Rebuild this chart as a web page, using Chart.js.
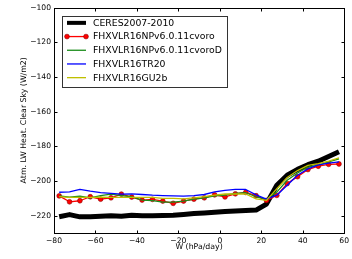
<!DOCTYPE html>
<html>
<head>
<meta charset="utf-8">
<script src="https://cdn.jsdelivr.net/npm/chart.js@4"></script>
<style>
  html, body { margin: 0; padding: 0; background: #fff; }
  #wrap { width: 352px; height: 259px; }
</style>
</head>
<body>
<div id="wrap"><canvas id="lw-chart"></canvas></div>
<script>
// vertical velocity bins (hPa/day)
const wBins = [-77.5, -72.5, -67.5, -62.5, -57.5, -52.5, -47.5, -42.5, -37.5, -32.5,
               -27.5, -22.5, -17.5, -12.5, -7.5, -2.5, 2.5, 7.5, 12.5, 17.5,
               22.5, 27.5, 32.5, 37.5, 42.5, 47.5, 52.5, 57.5];

const ceres = [-220.6, -219.4, -220.7, -220.6, -220.3, -220.1, -220.3, -219.7, -220.0, -220.0,
               -219.9, -219.7, -219.3, -218.8, -218.4, -218.0, -217.6, -217.3, -217.0, -216.8,
               -213.3, -202.5, -196.7, -193.3, -190.6, -188.6, -185.9, -183.2];
const npv6cvoro = [-208.6, -212.0, -211.4, -209.1, -210.5, -209.7, -207.6, -209.3, -211.0, -210.6,
                   -211.6, -212.9, -211.6, -210.5, -209.7, -208.0, -209.2, -207.4, -206.6, -208.5,
                   -211.2, -208.3, -201.5, -197.5, -193.4, -191.5, -190.4, -190.2];
const npv6cvoroD = [-208.6, -209.3, -208.8, -209.7, -208.4, -207.6, -208.4, -209.1, -211.0, -211.3,
                    -212.2, -212.2, -211.6, -210.5, -209.7, -208.6, -208.2, -207.2, -206.8, -209.1,
                    -210.6, -206.4, -199.6, -195.4, -192.0, -190.9, -189.0, -187.2];
const tr20 = [-206.5, -206.3, -204.9, -205.9, -206.7, -207.2, -207.6, -207.4, -207.8, -208.2,
              -208.4, -208.6, -208.7, -208.4, -207.8, -206.3, -205.4, -204.9, -204.9, -208.0,
              -210.5, -208.2, -202.5, -196.7, -193.0, -190.7, -189.7, -189.0];
const gu2b = [-209.0, -209.5, -209.5, -209.5, -209.3, -209.5, -209.5, -209.5, -209.5, -209.5,
              -210.0, -210.0, -210.3, -209.7, -209.0, -208.2, -207.5, -207.5, -207.5, -210.3,
              -211.2, -204.5, -198.0, -194.0, -191.0, -190.0, -188.5, -186.7];

const xTicks = [-80, -60, -40, -20, 0, 20, 40, 60];
const yTicks = [-220, -200, -180, -160, -140, -120, -100];

const FONT = 'DejaVu Sans';

const toPts = (vals) => vals.map((v, i) => ({ x: wBins[i], y: v }));
const minus = (v) => String(v).replace('-', '\u2212');

// frame + inward ticks on all four sides (matplotlib classic look)
const framePlugin = {
    id: 'frame',
    afterDatasetsDraw(chart) {
        const { ctx, chartArea: a, scales } = chart;
        const L = Math.round(a.left) + 0.5, R = Math.round(a.right) + 0.5;
        const T = Math.round(a.top) + 0.5, B = Math.round(a.bottom) + 0.5;
        ctx.save();
        ctx.strokeStyle = '#000';
        ctx.lineWidth = 1;
        ctx.beginPath();
        xTicks.forEach(v => {
            const px = Math.round(scales.x.getPixelForValue(v)) + 0.5;
            ctx.moveTo(px, B); ctx.lineTo(px, B - 3);
            ctx.moveTo(px, T); ctx.lineTo(px, T + 3);
        });
        yTicks.forEach(v => {
            const py = Math.round(scales.y.getPixelForValue(v)) + 0.5;
            ctx.moveTo(L, py); ctx.lineTo(L + 3, py);
            ctx.moveTo(R, py); ctx.lineTo(R - 3, py);
        });
        ctx.stroke();
        ctx.strokeRect(L, T, R - L, B - T);
        ctx.restore();
    }
};

// boxed legend in the upper left of the plot
const legendPlugin = {
    id: 'boxLegend',
    afterDraw(chart) {
        const { ctx, chartArea: a } = chart;
        const x0 = a.left + 8, y0 = a.top + 8;
        const w = 165, rowH = 13.7;
        ctx.save();
        ctx.fillStyle = '#fff';
        ctx.fillRect(x0, y0, w, 71);
        ctx.strokeStyle = '#333';
        ctx.lineWidth = 1;
        ctx.strokeRect(Math.round(x0) + 0.5, Math.round(y0) + 0.5, w, 71);
        chart.data.datasets.forEach((ds, i) => {
            const cy = y0 + 7.3 + i * rowH;
            const lx0 = x0 + 5, lx1 = x0 + 24;
            ctx.strokeStyle = ds.borderColor;
            ctx.lineWidth = i === 0 ? 4 : ds.borderWidth;
            ctx.beginPath();
            ctx.moveTo(lx0, cy); ctx.lineTo(lx1, cy);
            ctx.stroke();
            if (ds.pointRadius > 0) {
                [lx0, lx1].forEach(px => {
                    ctx.beginPath();
                    ctx.arc(px, cy, ds.pointRadius, 0, Math.PI * 2);
                    ctx.fillStyle = ds.pointBackgroundColor;
                    ctx.fill();
                    ctx.lineWidth = 0.6;
                    ctx.strokeStyle = ds.pointBorderColor;
                    ctx.stroke();
                });
            }
            ctx.fillStyle = '#000';
            ctx.font = '9.3px "' + FONT + '"';
            ctx.textBaseline = 'middle';
            ctx.fillText(ds.label, x0 + 31, cy + 0.5);
        });
        ctx.restore();
    }
};

const ctx = document.getElementById('lw-chart').getContext('2d');
new Chart(ctx, {
    type: 'line',
    data: {
        datasets: [
            { label: 'CERES2007-2010', data: toPts(ceres), borderColor: '#000000',
              borderWidth: 5, pointRadius: 0, order: 4 },
            { label: 'FHXVLR16NPv6.0.11cvoro', data: toPts(npv6cvoro), borderColor: '#ff0000',
              borderWidth: 1.3, pointRadius: 2.4, pointBackgroundColor: '#ff0000',
              pointBorderColor: '#8b0000', pointBorderWidth: 0.6, order: 3 },
            { label: 'FHXVLR16NPv6.0.11cvoroD', data: toPts(npv6cvoroD), borderColor: '#1a8c1a',
              borderWidth: 1.3, pointRadius: 0, order: 2 },
            { label: 'FHXVLR16TR20', data: toPts(tr20), borderColor: '#0000ff',
              borderWidth: 1.3, pointRadius: 0, order: 1 },
            { label: 'FHXVLR16GU2b', data: toPts(gu2b), borderColor: '#bfbf00',
              borderWidth: 1.3, pointRadius: 0, order: 0 }
        ]
    },
    options: {
        responsive: true,
        maintainAspectRatio: false,
        animation: false,
        layout: { padding: { left: 0, right: 5, top: 5, bottom: 0 } },
        elements: { line: { tension: 0, borderJoinStyle: 'round' } },
        scales: {
            x: {
                type: 'linear',
                min: -80, max: 60,
                afterBuildTicks: s => { s.ticks = xTicks.map(v => ({ value: v })); },
                afterFit: s => { s.height = 26; },
                grid: { display: false, drawTicks: false },
                border: { display: false },
                ticks: { color: '#000', padding: 3, maxRotation: 0,
                         font: { family: FONT, size: 7.6 }, callback: minus },
                title: { display: true, text: 'W (hPa/day)', color: '#000',
                         font: { family: FONT, size: 7.8 }, padding: { top: 0, bottom: 7.3 } }
            },
            y: {
                min: -230, max: -100,
                afterBuildTicks: s => { s.ticks = yTicks.map(v => ({ value: v })); },
                afterFit: s => { s.width = 54; },
                grid: { display: false, drawTicks: false },
                border: { display: false },
                ticks: { color: '#000', padding: 3,
                         font: { family: FONT, size: 7.6 }, callback: minus },
                title: { display: true, text: 'Atm. LW Heat. Clear Sky (W/m2)', color: '#000',
                         font: { family: FONT, size: 7.8 }, padding: { top: 19, bottom: 0 } }
            }
        },
        plugins: {
            legend: { display: false },
            tooltip: { enabled: false }
        }
    },
    plugins: [framePlugin, legendPlugin]
});
</script>
</body>
</html>
